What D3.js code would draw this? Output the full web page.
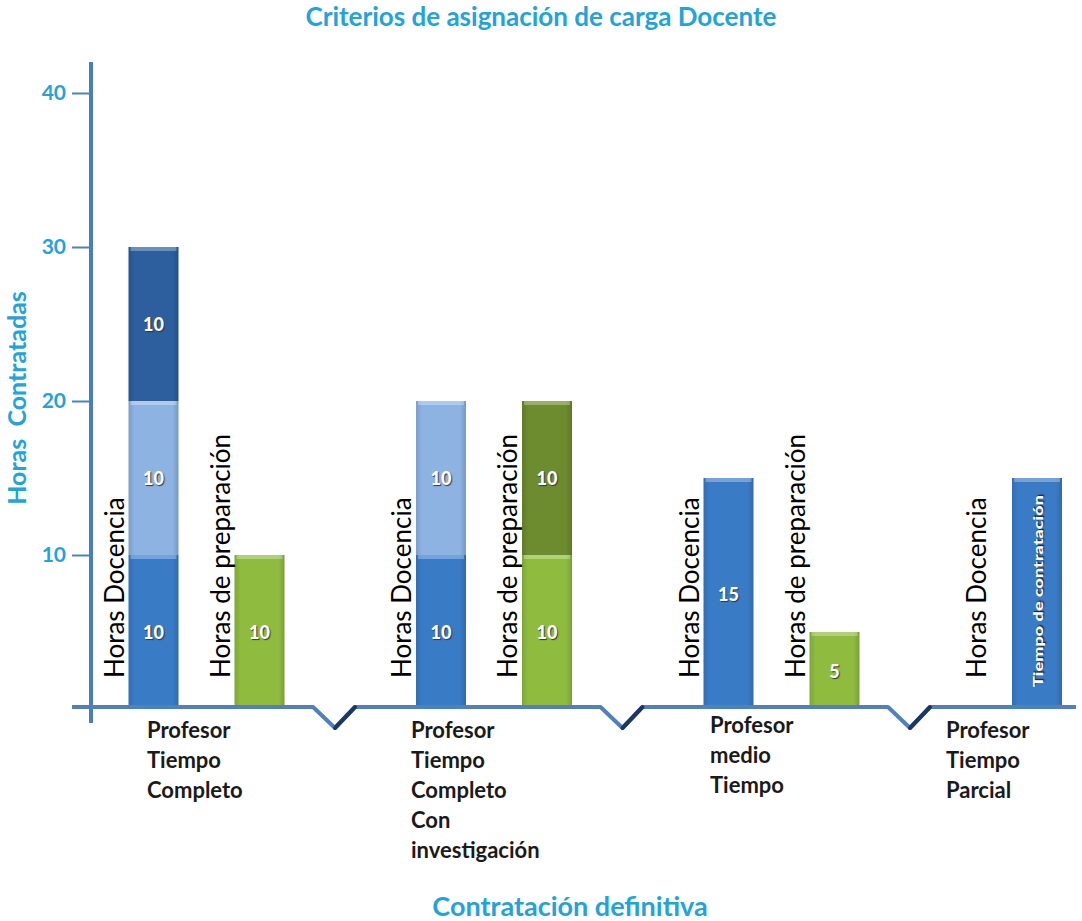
<!DOCTYPE html>
<html>
<head>
<meta charset="utf-8">
<script src="https://cdn.jsdelivr.net/npm/d3@7"></script>
<style>
  body { margin: 0; background: #fff; }
  text { font-family: Lato, "Open Sans", sans-serif; }
</style>
</head>
<body>
<div id="chart"></div>
<script>
// categorias (una linea por renglon)
const groups = ["ptc", "ptci", "pmt", "ptp"];
const groupLines = [
    ["Profesor", "Tiempo", "Completo"],
    ["Profesor", "Tiempo", "Completo", "Con", "investigación"],
    ["Profesor", "medio", "Tiempo"],
    ["Profesor", "Tiempo", "Parcial"]
];
// horas docencia, tramos de abajo hacia arriba
const docencia1 = [10, 10, 15, 0];
const docencia2 = [10, 10, 0, 0];
const docencia3 = [10, 0, 0, 0];
// horas de preparacion
const preparacion1 = [10, 10, 5, 0];
const preparacion2 = [0, 10, 0, 0];
// tiempo de contratacion (parcial)
const contratacion = [0, 0, 0, 15];
const yTicks = [10, 20, 30, 40];

const width = 1082, height = 921;
const blue = "#24a2da";

const svg = d3.select("#chart").append("svg")
    .attr("width", width)
    .attr("height", height);

const y = d3.scaleLinear().domain([0, 40]).range([709, 93]);
const x = d3.scaleBand().domain(groups).range([47.5, 1197.5]);
const barW = 50;
const slot = { doc: 81, prep: 187, con: 102 };

const colors = {
    d1: "#3a7bc6", d2: "#8db3e2", d3: "#2d5e9e",
    p1: "#8fbc3f", p2: "#6d8b2f", c: "#3a7bc6"
};

// gradientes para el efecto de bisel
const defs = svg.append("defs");
Object.entries(colors).forEach(([k, c]) => {
    const g = defs.append("linearGradient").attr("id", "grad-" + k)
        .attr("x1", "0%").attr("x2", "100%").attr("y1", "0%").attr("y2", "0%");
    g.append("stop").attr("offset", "0%").attr("stop-color", d3.color(c).darker(0.35));
    g.append("stop").attr("offset", "12%").attr("stop-color", c);
    g.append("stop").attr("offset", "88%").attr("stop-color", c);
    g.append("stop").attr("offset", "100%").attr("stop-color", d3.color(c).darker(0.45));
});

const rows = groups.map((g, i) => ({
    g,
    d1: docencia1[i], d2: docencia2[i], d3: docencia3[i],
    p1: preparacion1[i], p2: preparacion2[i],
    c: contratacion[i]
}));

const docStack = d3.stack().keys(["d1", "d2", "d3"])(rows);
const prepStack = d3.stack().keys(["p1", "p2"])(rows);
const conStack = d3.stack().keys(["c"])(rows);

const segments = [];
function collect(stack, slotName) {
    stack.forEach(layer => {
        layer.forEach(s => {
            const v = s[1] - s[0];
            if (v > 0) segments.push({ key: layer.key, g: s.data.g, y0: s[0], y1: s[1], v, slot: slotName });
        });
    });
}
collect(docStack, "doc");
collect(prepStack, "prep");
collect(conStack, "con");

const bars = svg.append("g");
const seg = bars.selectAll("g").data(segments).enter().append("g");

seg.append("rect")
    .attr("x", d => x(d.g) + slot[d.slot])
    .attr("y", d => y(d.y1))
    .attr("width", barW)
    .attr("height", d => y(d.y0) - y(d.y1))
    .attr("fill", d => "url(#grad-" + d.key + ")");

// brillo superior
seg.append("rect")
    .attr("x", d => x(d.g) + slot[d.slot] + 2)
    .attr("y", d => y(d.y1))
    .attr("width", barW - 4)
    .attr("height", 4)
    .attr("fill", "#fff")
    .attr("opacity", 0.3);

seg.filter(d => d.key !== "c").append("text")
    .attr("x", d => x(d.g) + slot[d.slot] + barW / 2)
    .attr("y", d => (y(d.y0) + y(d.y1)) / 2)
    .attr("text-anchor", "middle")
    .attr("dominant-baseline", "central")
    .attr("fill", "#fff")
    .attr("font-weight", "900")
    .attr("font-size", 18)
    .style("text-shadow", "1px 1px 1px #334")
    .text(d => d.v);

seg.filter(d => d.key === "c").append("text")
    .attr("transform", d => `translate(${x(d.g) + slot[d.slot] + barW / 2},${y(d.y0) - 22}) rotate(-90)`)
    .attr("dominant-baseline", "central")
    .attr("fill", "#fff")
    .attr("font-weight", "900")
    .attr("font-size", 14)
    .attr("textLength", 192)
    .attr("lengthAdjust", "spacingAndGlyphs")
    .style("text-shadow", "1px 1px 1px #223")
    .text("Tiempo de contratación");

// etiquetas verticales
const vlabels = [];
groups.forEach((g, i) => {
    vlabels.push({ g, dx: 66, text: "Horas Docencia" });
    if (preparacion1[i] + preparacion2[i] > 0) vlabels.push({ g, dx: 172, text: "Horas de preparación" });
});
svg.append("g").selectAll("text").data(vlabels).enter().append("text")
    .attr("transform", d => `translate(${x(d.g) + d.dx},${y(0) - 31}) rotate(-90)`)
    .attr("dominant-baseline", "central")
    .attr("font-size", 26)
    .attr("fill", "#000")
    .text(d => d.text);

// eje y
const yAxis = svg.append("g")
    .attr("transform", "translate(91,0)")
    .call(d3.axisLeft(y).tickValues(yTicks).tickSize(19).tickPadding(6));
yAxis.select(".domain").remove();
yAxis.selectAll(".tick line").attr("stroke", "#4f81bd").attr("stroke-width", 2);
yAxis.selectAll(".tick text")
    .attr("fill", blue)
    .attr("font-size", 21)
    .attr("font-weight", "bold")
    .attr("font-family", "Lato, sans-serif");

svg.append("line")
    .attr("x1", 91).attr("x2", 91)
    .attr("y1", 62).attr("y2", 723)
    .attr("stroke", "#4a7ebb")
    .attr("stroke-width", 4);

// linea base con cortes
const baseY = y(0) - 2;
const cuts = groups.slice(1).map(g => x(g));
const pts = [[72, baseY]];
cuts.forEach(b => { pts.push([b - 22, baseY], [b, baseY + 21], [b + 20, baseY]); });
pts.push([width - 6, baseY]);
svg.append("path")
    .attr("d", d3.line()(pts))
    .attr("fill", "none")
    .attr("stroke", "#4f81bd")
    .attr("stroke-width", 4)
    .attr("stroke-linejoin", "round");
svg.append("g").selectAll("line").data(cuts).enter().append("line")
    .attr("x1", d => d).attr("y1", baseY + 21)
    .attr("x2", d => d + 20).attr("y2", baseY)
    .attr("stroke", "#1c3766")
    .attr("stroke-width", 4)
    .attr("stroke-linecap", "round");

// nombres de categoria
const catDx = [99.5, 76, 87.5, 36];
const catDy = [738, 738, 733, 738];
const cat = svg.append("g").selectAll("text").data(groups).enter().append("text")
    .attr("x", (d, i) => x(d) + catDx[i])
    .attr("y", (d, i) => catDy[i])
    .attr("font-size", 22)
    .attr("font-weight", "bold")
    .attr("fill", "#1a1a1a");
cat.selectAll("tspan").data((d, i) => groupLines[i]).enter().append("tspan")
    .attr("x", function () { return this.parentNode.getAttribute("x"); })
    .attr("dy", (d, j) => j === 0 ? 0 : 30)
    .text(d => d);

// titulos
svg.append("text")
    .attr("x", 541).attr("y", 26)
    .attr("text-anchor", "middle")
    .attr("font-size", 26).attr("font-weight", "bold")
    .attr("fill", blue)
    .text("Criterios de asignación de carga Docente");

svg.append("text")
    .attr("x", 570).attr("y", 916)
    .attr("text-anchor", "middle")
    .attr("font-size", 27).attr("font-weight", "bold")
    .attr("fill", blue)
    .text("Contratación definitiva");

svg.append("text")
    .attr("transform", "translate(16,398) rotate(-90)")
    .attr("text-anchor", "middle")
    .attr("dominant-baseline", "central")
    .attr("font-size", 25).attr("font-weight", "bold")
    .attr("fill", blue)
    .style("white-space", "pre")
    .text("Horas  Contratadas");
</script>
</body>
</html>
